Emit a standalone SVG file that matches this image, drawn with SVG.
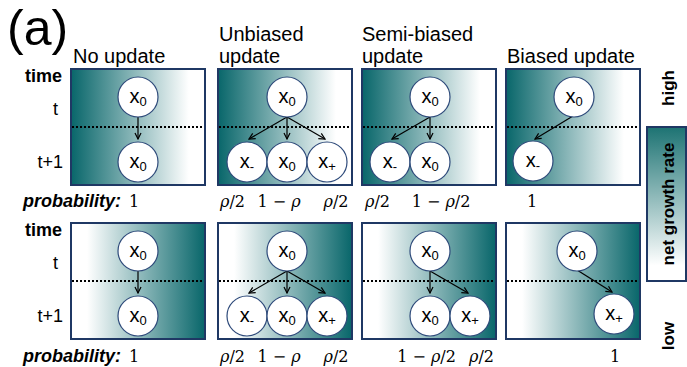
<svg xmlns="http://www.w3.org/2000/svg" width="687" height="367" viewBox="0 0 687 367">
<defs>
<linearGradient id="gL" x1="0" y1="0" x2="1" y2="0">
<stop offset="0" stop-color="#08666a"/>
<stop offset="0.88" stop-color="#ffffff"/>
</linearGradient>
<linearGradient id="gR" x1="0" y1="0" x2="1" y2="0">
<stop offset="0.12" stop-color="#ffffff"/>
<stop offset="1" stop-color="#08666a"/>
</linearGradient>
<linearGradient id="gV" x1="0" y1="0" x2="0" y2="1">
<stop offset="0" stop-color="#1d7373"/>
<stop offset="0.9" stop-color="#ffffff"/>
</linearGradient>
<marker id="ah" markerWidth="8" markerHeight="8" refX="7" refY="4" orient="auto" markerUnits="userSpaceOnUse">
<path d="M1,1 L7,4 L1,7" fill="none" stroke="#000" stroke-width="1.2"/>
</marker>
<style>
.panel{stroke:#1f3864;stroke-width:2}
.dot{stroke:#000;stroke-width:2;stroke-dasharray:2 2}
.node circle{fill:#fff;stroke:#2e4a7a;stroke-width:1.2}
.node text{font-family:"Liberation Sans",Arial,sans-serif;font-size:20px;fill:#000;text-anchor:middle}
.sub{font-size:13px}
.arr{stroke:#000;stroke-width:1.2;fill:none;marker-end:url(#ah)}
.title{font-family:"Liberation Sans",Arial,sans-serif;font-size:20px;fill:#000}
.lbl{font-family:"Liberation Sans",Arial,sans-serif;font-size:18px;fill:#000}
.bold{font-weight:bold}
.prob{font-family:"Liberation Sans",Arial,sans-serif;font-size:18px;font-weight:bold;font-style:italic;fill:#000}
.val{font-family:"DejaVu Serif","Liberation Serif",serif;font-size:16px;fill:#000;text-anchor:middle}
.rho{font-style:italic}
.side{font-family:"Liberation Sans",Arial,sans-serif;font-size:17px;font-weight:bold;fill:#000;text-anchor:middle}
</style>
</defs>
<rect width="687" height="367" fill="#fff"/>

<text x="7" y="45" font-family="'Liberation Sans',Arial,sans-serif" font-size="50">(a)</text>

<text class="title" x="73" y="63">No update</text>
<text class="title" x="219" y="41">Unbiased</text>
<text class="title" x="219" y="63">update</text>
<text class="title" x="362" y="41">Semi-biased</text>
<text class="title" x="362" y="63">update</text>
<text class="title" x="507" y="63">Biased update</text>

<g id="labels">
<text class="lbl bold" x="62" y="82" text-anchor="end">time</text>
<text class="lbl" x="55.5" y="115" text-anchor="middle">t</text>
<text class="lbl" x="63" y="168" text-anchor="end">t+1</text>
<text class="lbl bold" x="62" y="236" text-anchor="end">time</text>
<text class="lbl" x="55.5" y="269" text-anchor="middle">t</text>
<text class="lbl" x="63" y="322" text-anchor="end">t+1</text>
<text class="prob" x="23" y="207">probability:</text>
<text class="prob" x="23" y="362">probability:</text>
</g>

<g id="panels">
<rect class="panel" x="71" y="69" width="134" height="116" fill="url(#gL)"/>
<rect class="panel" x="218" y="69" width="134" height="116" fill="url(#gL)"/>
<rect class="panel" x="362" y="69" width="134" height="116" fill="url(#gL)"/>
<rect class="panel" x="506" y="69" width="134" height="116" fill="url(#gL)"/>
<rect class="panel" x="71" y="223" width="134" height="116" fill="url(#gR)"/>
<rect class="panel" x="218" y="223" width="134" height="116" fill="url(#gR)"/>
<rect class="panel" x="362" y="223" width="134" height="116" fill="url(#gR)"/>
<rect class="panel" x="506" y="223" width="134" height="116" fill="url(#gR)"/>
<line class="dot" x1="72" y1="127" x2="204" y2="127"/>
<line class="dot" x1="219" y1="127" x2="351" y2="127"/>
<line class="dot" x1="363" y1="127" x2="495" y2="127"/>
<line class="dot" x1="507" y1="127" x2="639" y2="127"/>
<line class="dot" x1="72" y1="281" x2="204" y2="281"/>
<line class="dot" x1="219" y1="281" x2="351" y2="281"/>
<line class="dot" x1="363" y1="281" x2="495" y2="281"/>
<line class="dot" x1="507" y1="281" x2="639" y2="281"/>
</g>

<g id="connectors">
<line class="arr" x1="138" y1="117" x2="138" y2="139"/>
<line class="arr" x1="287" y1="117" x2="249" y2="139"/>
<line class="arr" x1="287" y1="117" x2="287" y2="139"/>
<line class="arr" x1="287" y1="117" x2="325" y2="139"/>
<line class="arr" x1="430" y1="117" x2="392" y2="139"/>
<line class="arr" x1="430" y1="117" x2="430" y2="139"/>
<line class="arr" x1="573" y1="116" x2="535" y2="139"/>
<line class="arr" x1="138" y1="271" x2="138" y2="293"/>
<line class="arr" x1="287" y1="271" x2="249" y2="293"/>
<line class="arr" x1="287" y1="271" x2="287" y2="293"/>
<line class="arr" x1="287" y1="271" x2="325" y2="293"/>
<line class="arr" x1="430" y1="271" x2="430" y2="293"/>
<line class="arr" x1="430" y1="271" x2="468" y2="293"/>
<line class="arr" x1="577" y1="270" x2="612" y2="292"/>
</g>

<g id="n1a" class="node"><circle cx="138" cy="97" r="20"/><text x="138" y="103">x<tspan class="sub" dy="3">0</tspan></text></g>
<g id="n1b" class="node"><circle cx="138" cy="162" r="20"/><text x="138" y="168">x<tspan class="sub" dy="3">0</tspan></text></g>
<g id="n2a" class="node"><circle cx="287" cy="97" r="20"/><text x="287" y="103">x<tspan class="sub" dy="3">0</tspan></text></g>
<g id="n2b" class="node"><circle cx="247" cy="162" r="20"/><text x="247" y="168">x<tspan class="sub" dy="3">-</tspan></text></g>
<g id="n2c" class="node"><circle cx="287" cy="162" r="20"/><text x="287" y="168">x<tspan class="sub" dy="3">0</tspan></text></g>
<g id="n2d" class="node"><circle cx="327" cy="162" r="20"/><text x="327" y="168">x<tspan class="sub" dy="3">+</tspan></text></g>
<g id="n3a" class="node"><circle cx="430" cy="97" r="20"/><text x="430" y="103">x<tspan class="sub" dy="3">0</tspan></text></g>
<g id="n3b" class="node"><circle cx="390" cy="162" r="20"/><text x="390" y="168">x<tspan class="sub" dy="3">-</tspan></text></g>
<g id="n3c" class="node"><circle cx="430" cy="162" r="20"/><text x="430" y="168">x<tspan class="sub" dy="3">0</tspan></text></g>
<g id="n4a" class="node"><circle cx="574" cy="97" r="20"/><text x="574" y="103">x<tspan class="sub" dy="3">0</tspan></text></g>
<g id="n4b" class="node"><circle cx="533" cy="161" r="20"/><text x="533" y="167">x<tspan class="sub" dy="3">-</tspan></text></g>

<g id="m1a" class="node"><circle cx="138" cy="251" r="20"/><text x="138" y="257">x<tspan class="sub" dy="3">0</tspan></text></g>
<g id="m1b" class="node"><circle cx="138" cy="316" r="20"/><text x="138" y="322">x<tspan class="sub" dy="3">0</tspan></text></g>
<g id="m2a" class="node"><circle cx="287" cy="251" r="20"/><text x="287" y="257">x<tspan class="sub" dy="3">0</tspan></text></g>
<g id="m2b" class="node"><circle cx="247" cy="316" r="20"/><text x="247" y="322">x<tspan class="sub" dy="3">-</tspan></text></g>
<g id="m2c" class="node"><circle cx="287" cy="316" r="20"/><text x="287" y="322">x<tspan class="sub" dy="3">0</tspan></text></g>
<g id="m2d" class="node"><circle cx="327" cy="316" r="20"/><text x="327" y="322">x<tspan class="sub" dy="3">+</tspan></text></g>
<g id="m3a" class="node"><circle cx="430" cy="251" r="20"/><text x="430" y="257">x<tspan class="sub" dy="3">0</tspan></text></g>
<g id="m3b" class="node"><circle cx="430" cy="316" r="20"/><text x="430" y="322">x<tspan class="sub" dy="3">0</tspan></text></g>
<g id="m3c" class="node"><circle cx="470" cy="316" r="20"/><text x="470" y="322">x<tspan class="sub" dy="3">+</tspan></text></g>
<g id="m4a" class="node"><circle cx="577" cy="251" r="20"/><text x="577" y="257">x<tspan class="sub" dy="3">0</tspan></text></g>
<g id="m4b" class="node"><circle cx="614" cy="314" r="20"/><text x="614" y="320">x<tspan class="sub" dy="3">+</tspan></text></g>

<g id="values">
<text class="val" x="134" y="207">1</text>
<text class="val" x="232.5" y="207"><tspan class="rho">ρ</tspan>/2</text>
<text class="val" x="279" y="207">1 − <tspan class="rho">ρ</tspan></text>
<text class="val" x="336" y="207"><tspan class="rho">ρ</tspan>/2</text>
<text class="val" x="377.5" y="207"><tspan class="rho">ρ</tspan>/2</text>
<text class="val" x="441" y="207">1 − <tspan class="rho">ρ</tspan>/2</text>
<text class="val" x="532" y="207">1</text>
<text class="val" x="134" y="362">1</text>
<text class="val" x="232.5" y="362"><tspan class="rho">ρ</tspan>/2</text>
<text class="val" x="279" y="362">1 − <tspan class="rho">ρ</tspan></text>
<text class="val" x="336" y="362"><tspan class="rho">ρ</tspan>/2</text>
<text class="val" x="426.5" y="362">1 − <tspan class="rho">ρ</tspan>/2</text>
<text class="val" x="481.5" y="362"><tspan class="rho">ρ</tspan>/2</text>
<text class="val" x="615" y="362">1</text>
</g>

<g id="growth">
<rect x="647" y="127" width="39" height="154" fill="url(#gV)" stroke="#1f3864" stroke-width="2"/>
<text class="side" transform="translate(674,88) rotate(-90)">high</text>
<text class="side" transform="translate(674,204) rotate(-90)">net growth rate</text>
<text class="side" transform="translate(674,336) rotate(-90)">low</text>
</g>
</svg>
